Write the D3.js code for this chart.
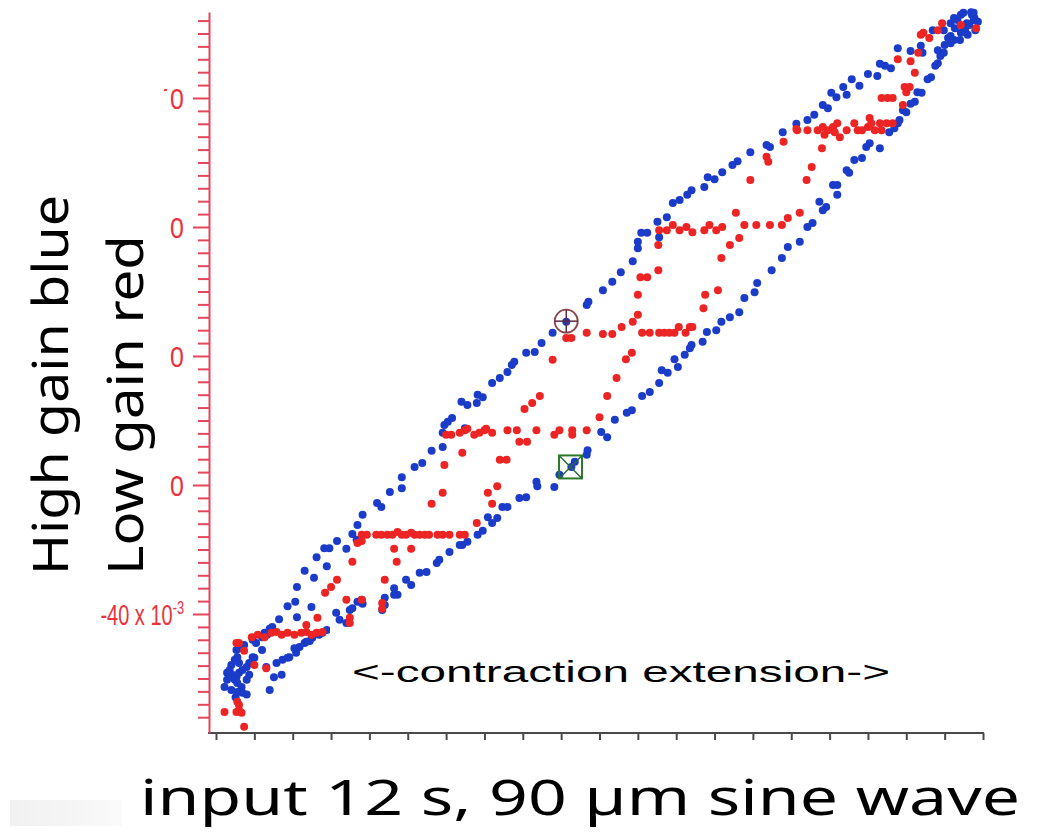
<!DOCTYPE html>
<html><head><meta charset="utf-8">
<script src="https://cdn.jsdelivr.net/npm/d3@7"></script>
<style>body{margin:0;background:#fff}svg{display:block}</style>
</head><body>
<svg id="c" width="1038" height="836"></svg>
<script>
// input position (µm, 90 µm sine) vs output (×10^-3)
const highGain = [
[-42.6,-45.6],[-42.5,-46.7],[-42.8,-47.1],[-43.2,-47.9],[-43.4,-48.7],[-43.7,-49.1],[-43.1,-49.4],[-42.6,-49.8],[-42.3,-49.1],[-41.9,-48.7],[-41.4,-48.2],[-42.3,-47.6],[-42.8,-50.2],[-42.5,-50.7],[-42.0,-51.3],[-42.5,-52.1],[-41.9,-52.2],[-41.4,-52.5],[-44.0,-51.3],[-43.7,-50.2],[-41.4,-50.2],[-41.1,-49.4],[-40.5,-46.8],[-40.7,-44.0],[-40.3,-44.5],[-41.1,-47.6],[-41.7,-44.8],[-42.3,-45.3],[-43.2,-51.8],[-42.7,-52.9],
[-39.6,-45.6],[-40.7,-46.7],[-39.1,-48.2],[-37.9,-47.6],[-37.2,-47.1],[-36.6,-46.8],[-35.8,-45.3],[-35.2,-45.1],[-34.4,-44.3],[-33.7,-43.7],[-32.9,-43.2],[-32.5,-42.9],[-38.2,-49.8],[-37.3,-49.4],[-38.7,-51.8],[-36.4,-46.7],[-35.6,-46.0],[-34.6,-44.5],[-34.0,-44.2],[-32.0,-42.5],[-30.9,-39.8],[-30.5,-40.9],[-29.7,-41.4],[-29.3,-39.4],[-29.0,-39.1],[-28.4,-38.1],[-27.9,-37.8],[-27.8,-38.4],[-25.5,-39.4],[-25.2,-37.5],[-25.2,-38.6],[-24.1,-36.0],[-24.1,-37.0],[-23.7,-37.0],[-22.7,-34.7],[-22.1,-35.5],[-21.1,-33.6],[-20.3,-33.5],[-19.1,-32.1],[-18.8,-31.6],[-17.6,-30.4],[-16.4,-29.3],[-16.1,-29.3],[-15.5,-28.8],[-14.3,-27.7],[-13.7,-27.1],[-13.1,-25.0],[-12.6,-25.9],[-12.0,-25.1],[-11.4,-23.4],[-10.8,-23.4],[-9.4,-22.0],[-8.6,-21.9],[-7.4,-19.5],[-7.3,-20.2],[-5.3,-20.3],[-4.7,-18.4],[-3.3,-17.2],[-2.9,-16.4],[-1.5,-15.3],[-1.4,-14.6],[0.2,-11.8],[0.9,-12.6],[1.8,-9.9],[3.2,-8.8],[3.8,-8.4],[5.0,-6.2],[5.9,-5.6],[7.0,-4.2],[7.3,-2.2],[8.0,-2.6],[8.8,-0.5],[9.2,-1.7],[10.0,0.2],[10.6,1.2],[10.8,1.7],[12.1,2.2],[12.6,3.7],[13.7,4.0],[14.3,5.3],[15.3,6.0],[16.4,6.8],[17.0,9.0],[18.2,9.9],[18.5,11.3],[20.2,13.3],[21.4,15.2],[22.1,16.9],[23.5,17.7],[24.4,20.0],[25.0,20.6],[25.8,23.9],[26.2,22.6],[26.6,23.1],[27.4,26.5],[27.9,26.5],[27.9,25.0],[29.0,28.8],[29.3,28.4],[29.9,30.4],[30.8,30.7],[31.3,32.4],[31.7,33.0],[32.9,32.2],[34.0,34.7],[34.6,35.3],[35.0,36.1],[35.2,36.6],[35.6,38.1],[36.0,37.8],[36.5,39.1],[37.0,39.4],[37.3,40.9],[37.8,40.8],[38.5,42.9],[38.9,43.2],[39.4,45.0],[39.7,45.4],[40.0,46.5],[40.4,47.0],[39.7,47.4],[41.2,48.5],[41.6,49.0],[41.2,49.6],[42.4,50.1],[42.7,51.2],[43.1,51.6],[43.9,52.1],
[-39.6,-43.6],[-39.3,-42.9],[-39.0,-43.2],[-38.7,-42.3],[-38.4,-42.0],[-37.6,-40.8],[-36.6,-38.8],[-35.7,-38.1],[-35.5,-35.8],[-35.5,-40.5],[-33.8,-38.9],[-34.6,-33.3],[-33.5,-34.4],[-33.2,-31.2],[-32.0,-32.6],[-32.3,-29.8],[-31.7,-29.8],[-30.8,-28.7],[-29.7,-29.9],[-29.0,-27.6],[-28.5,-28.5],[-28.4,-26.2],[-27.8,-24.6],[-26.1,-22.8],[-25.6,-23.4],[-24.6,-21.1],[-23.2,-20.5],[-23.2,-18.8],[-21.7,-17.2],[-20.8,-16.6],[-19.7,-14.7],[-18.4,-14.1],[-18.4,-11.9],[-18.2,-10.7],[-17.8,-10.2],[-17.3,-9.6],[-15.8,-11.2],[-16.2,-7.1],[-15.5,-7.6],[-14.4,-7.3],[-14.3,-6.0],[-13.7,-6.4],[-12.6,-4.2],[-11.7,-3.4],[-10.8,-2.5],[-10.3,-1.4],[-10.0,-0.9],[-8.6,0.5],[-7.6,0.6],[-6.8,2.0],[-5.5,3.6],[-3.9,5.3],[-1.5,7.9],[-1.3,8.4],[0.4,10.2],[1.5,11.5],[2.5,13.0],[3.9,14.7],[4.5,16.7],[4.5,17.7],[4.9,19.1],[5.6,19.1],[7.0,18.4],[6.8,20.8],[7.9,21.5],[8.6,23.7],[9.4,24.2],[10.3,25.0],[10.8,25.7],[12.3,26.2],[12.7,27.7],[13.5,27.4],[14.4,28.5],[15.6,29.6],[16.2,30.2],[17.7,31.6],[19.6,32.7],[20.0,32.4],[21.5,34.7],[23.1,36.0],[24.4,36.6],[25.2,37.4],[26.2,38.9],[26.8,38.4],[27.2,40.8],[27.8,40.1],[29.0,40.5],[28.6,41.7],[29.6,42.9],[30.5,41.9],[31.5,43.7],[32.6,43.4],[32.9,45.3],[33.5,45.0],[34.2,44.6],[35.0,47.7],[36.5,47.3],[37.7,48.1],[37.9,47.0],[39.1,50.5],[40.4,50.5],[41.2,51.6],[41.6,52.4],[42.4,52.9],[42.7,53.2],[43.6,53.3],[43.9,53.2],
[42.0,52.1],[42.9,50.5],[43.4,51.3],[44.0,52.4],[44.4,51.8],[41.7,50.8],[40.9,49.3],[43.2,49.8],[44.1,50.5],[42.3,49.0],[40.5,48.2],[43.7,52.9]
];
const lowGain = [
[-44.0,-55.2],[-42.6,-55.2],[-42.3,-54.9],[-42.0,-55.3],[-42.5,-53.6],[-42.3,-54.1],[-41.7,-57.5],[-42.6,-44.5],[-42.3,-44.5],[-41.7,-45.7],[-40.5,-47.9],[-39.1,-48.4],
[-40.8,-43.6],[-40.1,-43.2],[-39.3,-43.6],[-38.5,-42.9],[-37.9,-42.8],[-37.3,-43.2],[-36.6,-42.9],[-35.8,-43.2],[-35.0,-42.9],[-34.4,-42.8],[-33.8,-43.2],[-33.2,-42.9],[-32.5,-42.8],
[-33.1,-40.6],[-34.4,-41.7],[-32.2,-36.7],[-31.5,-35.8],[-30.8,-34.7],[-29.0,-31.9],[-28.4,-29.0],[-27.9,-28.7],
[-29.3,-40.6],[-29.3,-41.4],[-29.7,-37.8],[-27.9,-37.8],[-25.5,-38.3],[-25.5,-39.2],[-25.2,-34.7],[-23.8,-31.9],[-24.1,-29.9],[-22.1,-29.9],
[-27.9,-27.7],[-27.3,-27.7],[-26.2,-27.7],[-25.6,-27.7],[-24.9,-27.7],[-24.3,-27.7],[-23.7,-27.3],[-23.2,-27.7],[-22.7,-27.7],[-22.1,-27.4],[-21.7,-27.7],[-21.1,-27.7],[-20.5,-27.7],[-20.0,-27.7],[-19.0,-27.7],[-18.4,-27.7],[-17.6,-27.7],[-16.4,-27.7],[-15.8,-27.7],
[-19.7,-22.9],[-18.4,-21.2],[-18.2,-16.9],[-16.1,-15.0],
[-14.4,-25.9],[-13.1,-21.2],[-12.6,-22.9],[-12.0,-20.2],[-11.7,-16.1],[-10.9,-16.1],[-9.4,-13.3],[-8.5,-13.3],
[-18.0,-12.2],[-17.4,-12.2],[-16.4,-11.9],[-15.8,-11.5],[-15.5,-11.3],[-14.7,-12.2],[-14.1,-11.9],[-13.5,-11.5],[-13.3,-11.3],[-12.6,-11.9],[-10.8,-11.5],[-9.7,-11.5],[-7.4,-11.5],[-5.3,-12.2],[-4.7,-11.5],[-3.2,-11.5],[-3.2,-12.2],[-1.5,-11.5],
[-8.8,-8.2],[-7.9,-7.3],[-7.0,-6.2],[-5.5,-0.6],[-3.9,2.8],[-3.3,2.8],
[0.0,-9.5],[0.9,-6.2],[2.0,-3.4],[3.1,-0.5],[3.8,0.5],
[-1.5,3.6],[0.4,3.4],[1.5,3.4],[2.6,4.5],[3.9,5.3],[4.5,6.4],[5.0,3.6],[5.9,3.6],[7.0,3.6],[7.6,3.6],[8.2,3.6],[8.8,3.6],[9.3,4.5],[10.1,3.6],[10.6,4.5],[10.9,4.5],
[4.5,9.5],[4.8,12.2],[5.6,12.2],[6.9,13.3],[6.9,17.2],
[12.2,7.4],[12.4,9.5],[13.9,10.2],[14.3,15.2],[15.3,17.2],[16.4,18.3],[16.0,22.2],
[7.0,19.5],[7.9,19.5],[8.6,20.3],[9.4,19.5],[10.2,20.0],[10.9,19.2],[12.3,19.5],[12.9,20.3],[13.7,19.5],[14.4,20.0],[17.0,20.3],[18.4,20.3],[20.0,20.3],[21.4,20.3],[22.1,21.4],
[17.7,27.3],[19.6,30.9],[19.8,30.1],[21.6,33.2],[23.1,35.2],
[23.5,22.2],[24.3,27.3],[24.9,29.3],[26.1,32.2],
[23.2,35.0],[24.4,35.0],[25.6,35.0],[26.2,35.5],[26.4,34.3],[26.8,35.0],[27.4,35.5],[27.6,34.7],[27.9,36.1],[28.2,33.9],[29.0,35.0],[29.9,36.1],[30.3,35.0],[30.8,35.0],[31.5,35.5],[31.7,36.9],[31.9,36.1],[32.3,35.0],[32.9,36.1],[33.1,35.0],[33.7,36.1],[34.4,36.1],
[33.1,40.0],[33.8,40.0],[34.4,40.0],[35.6,38.9],[36.0,40.9],[35.8,41.7],[36.4,41.7],[37.0,43.9],[35.0,46.0],[36.5,45.7],[37.4,47.0],[37.7,49.8],[38.0,50.1],[39.7,50.5],[40.2,51.6],[42.4,51.3],[44.2,50.8],[38.7,49.3]
];
const cursorA = [-3.9, 5.4];   // circle cursor
const cursorB = [-3.4, -17.2]; // square cursor
const xTicks = d3.range(-45, 45.01, 4.5);
const yMajor = [-40, -20, 0, 20, 40];
const yMajorLabels = ["-40 x 10", "-20", "0", "20", "40"];
const yMinor = d3.range(-56, 52.01, 2).filter(v => v % 20 !== 0);
const yTitle1 = "High gain blue";
const yTitle2 = "Low gain red";
const xTitle = "input 12 s, 90 µm sine wave";
const note = "<-contraction extension->";

const svg = d3.select("#c");
const x = d3.scaleLinear().domain([-45, 45]).range([216, 983]);
const y = d3.scaleLinear().domain([-58.45, 53.33]).range([733, 12]);
const axisRed = "#e4475b", labelRed = "#e8323c";
const blue = "#1b3cc8", red = "#ec2424";

// x axis
const gx = svg.append("g").attr("transform", "translate(0,733)")
  .call(d3.axisBottom(x).tickValues(xTicks).tickSize(7).tickFormat(""));
gx.select(".domain").remove();
gx.selectAll("line").attr("stroke", "#4a4a4a").attr("stroke-width", 2);
svg.append("line").attr("x1", 208).attr("x2", 984).attr("y1", 733).attr("y2", 733)
  .attr("stroke", "#4a4a4a").attr("stroke-width", 2);

// y axis
const gy = svg.append("g").attr("transform", "translate(209,0)")
  .call(d3.axisLeft(y).tickValues(yMajor).tickSize(16).tickSizeOuter(0).tickFormat(""));
gy.select(".domain").attr("stroke", axisRed).attr("stroke-width", 2);
gy.selectAll("line").attr("stroke", axisRed).attr("stroke-width", 2);
const gy2 = svg.append("g").attr("transform", "translate(209,0)")
  .call(d3.axisLeft(y).tickValues(yMinor).tickSize(11).tickFormat(""));
gy2.select(".domain").remove();
gy2.selectAll("line").attr("stroke", axisRed).attr("stroke-width", 2);

// y tick labels
const lab = svg.append("g").attr("fill", labelRed)
  .style("font-family", "'Liberation Sans', Arial, sans-serif").style("font-size", "25px");
yMajor.forEach((v, i) => {
  const sx = i === 0 ? 0.8 : 1;
  const t = lab.append("text").attr("text-anchor", "end")
    .attr("transform", `translate(184,${y(v)}) scale(${sx},1.2)`).attr("dy", "0.36em");
  t.append("tspan").text(yMajorLabels[i]);
  if (i === 0) t.append("tspan").attr("dy", "-0.55em").style("font-size", "16px").text("-3");
});

// points
svg.append("g").selectAll("circle").data(highGain).join("circle")
  .attr("cx", d => x(d[0])).attr("cy", d => y(d[1])).attr("r", 4).attr("fill", blue);
svg.append("g").selectAll("circle").data(lowGain).join("circle")
  .attr("cx", d => x(d[0])).attr("cy", d => y(d[1])).attr("r", 4).attr("fill", red);

// cursors
const ca = svg.append("g").attr("transform", `translate(${x(cursorA[0])},${y(cursorA[1])})`);
ca.append("circle").attr("r", 11.5).attr("fill", "none").attr("stroke", "#8a4646").attr("stroke-width", 1.8);
ca.append("line").attr("x1", -11.5).attr("x2", 11.5).attr("stroke", "#5a2a4a").attr("stroke-width", 1.5);
ca.append("line").attr("y1", -11.5).attr("y2", 11.5).attr("stroke", "#5a2a4a").attr("stroke-width", 1.5);
const cb = svg.append("g").attr("transform", `translate(${x(cursorB[0])},${y(cursorB[1])})`);
cb.append("rect").attr("x", -11.5).attr("y", -11.5).attr("width", 23).attr("height", 23)
  .attr("fill", "none").attr("stroke", "#2a7a2a").attr("stroke-width", 2);
cb.append("line").attr("x1", -11).attr("y1", -11).attr("x2", 11).attr("y2", 11).attr("stroke", "#2a6a3a").attr("stroke-width", 1.5);
cb.append("line").attr("x1", -11).attr("y1", 11).attr("x2", 11).attr("y2", -11).attr("stroke", "#2a6a3a").attr("stroke-width", 1.5);

// white label boxes
svg.append("rect").attr("x", 0).attr("y", 91).attr("width", 170).attr("height", 505).attr("fill", "#fff");
svg.append("rect").attr("x", 330).attr("y", 628).attr("width", 570).attr("height", 97).attr("fill", "#fff");

// y titles
const tf = "'Noto Sans', 'Open Sans', sans-serif";
svg.append("text").attr("transform", "translate(68,575) rotate(-90)")
  .attr("textLength", 380).attr("lengthAdjust", "spacingAndGlyphs")
  .style("font-family", tf).style("font-size", "50px").attr("fill", "#000").text(yTitle1);
svg.append("text").attr("transform", "translate(143,575) rotate(-90)")
  .attr("textLength", 340).attr("lengthAdjust", "spacingAndGlyphs")
  .style("font-family", tf).style("font-size", "50px").attr("fill", "#000").text(yTitle2);

// note
svg.append("text").attr("x", 352).attr("y", 682)
  .attr("textLength", 538).attr("lengthAdjust", "spacingAndGlyphs")
  .style("font-family", "'Liberation Sans', Arial, sans-serif").style("font-size", "30px").attr("fill", "#000").text(note);

// x title
svg.append("text").attr("x", 140).attr("y", 815)
  .attr("textLength", 880).attr("lengthAdjust", "spacingAndGlyphs")
  .style("font-family", tf).style("font-size", "50px").attr("fill", "#000").text(xTitle);

// faint corner element
const defs = svg.append("defs");
const lg = defs.append("linearGradient").attr("id", "fg").attr("x1", 0).attr("x2", 1);
lg.append("stop").attr("offset", 0).attr("stop-color", "#f0f0f0");
lg.append("stop").attr("offset", 1).attr("stop-color", "#fafafa");
svg.append("rect").attr("x", 10).attr("y", 800).attr("width", 112).attr("height", 26).attr("fill", "url(#fg)");
</script>
</body></html>
